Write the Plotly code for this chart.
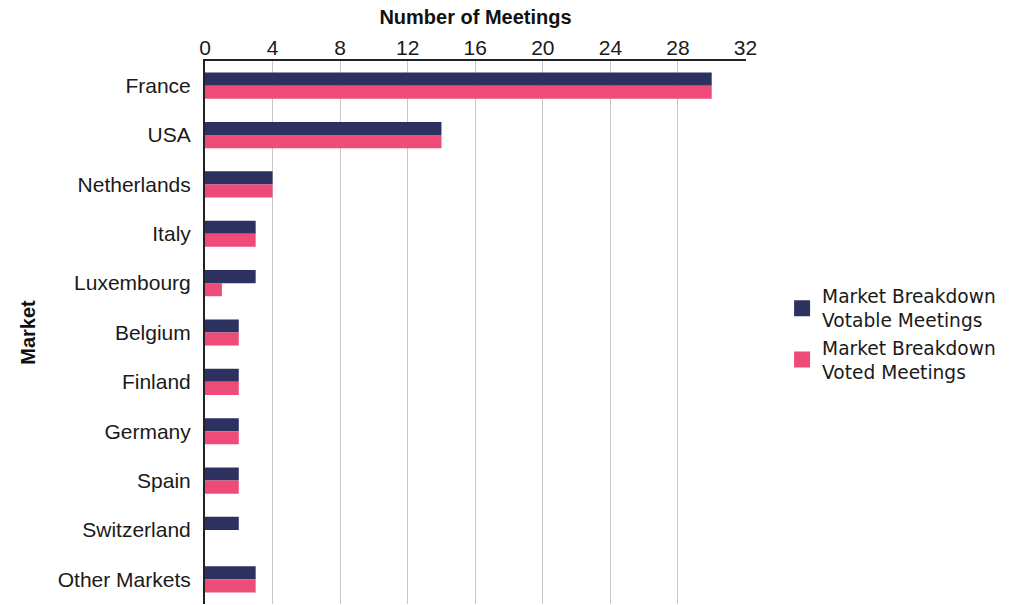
import plotly.graph_objects as go

markets = ["France", "USA", "Netherlands", "Italy", "Luxembourg", "Belgium",
           "Finland", "Germany", "Spain", "Switzerland", "Other Markets"]
votable = [30, 14, 4, 3, 3, 2, 2, 2, 2, 2, 3]
voted = [30, 14, 4, 3, 1, 2, 2, 2, 2, 0, 3]
x_ticks = [0, 4, 8, 12, 16, 20, 24, 28, 32]
series_names = ["Market Breakdown<br>Votable Meetings", "Market Breakdown<br>Voted Meetings"]
colors = ["#2d3160", "#ef4b78"]

fig = go.Figure()
for vals, name, col in zip([votable, voted], series_names, colors):
    fig.add_trace(go.Bar(y=markets, x=vals, orientation="h", name=name,
                         legendgroup=name, showlegend=False,
                         marker=dict(color=col, line=dict(width=0))))
# legend entries with larger square symbols
for name, col in zip(series_names, colors):
    fig.add_trace(go.Scatter(x=[None], y=[None], mode="markers", name=name,
                             legendgroup=name,
                             marker=dict(symbol="square", size=16, color=col,
                                         line=dict(width=0))))

fig.update_layout(
    width=1021, height=605,
    margin=dict(l=205, r=275, t=61, b=1, autoexpand=False),
    paper_bgcolor="white", plot_bgcolor="white",
    barmode="group", bargap=0.47, bargroupgap=0,
    font=dict(family="Arial", size=21, color="#1a1a1a"),
    showlegend=True,
    legend=dict(xref="container", yref="container", x=0.766, y=0.448,
                xanchor="left", yanchor="middle", itemsizing="trace",
                font=dict(family="DejaVu Sans", size=18.6, color="#1a1a1a"),
                tracegroupgap=19, traceorder="normal"),
    xaxis=dict(side="top", range=[0, 32.03], tickvals=x_ticks, automargin=False,
               showgrid=True, gridcolor="#c8c8c8", gridwidth=1,
               showline=True, linecolor="#222", linewidth=2,
               zeroline=False, ticks="", ticklabelstandoff=-4,
               title=dict(text="<b>Number of Meetings</b>", standoff=6,
                          font=dict(size=20, color="#111"))),
    yaxis=dict(autorange="reversed", categoryorder="array", categoryarray=markets,
               automargin=False,
               showline=True, linecolor="#222", linewidth=2,
               ticks="", ticklabelstandoff=8, showgrid=False,
               title=dict(text="<b>Market</b>", standoff=17,
                          font=dict(size=20, color="#111"))),
)

fig.write_html("out.html", config={"displayModeBar": False},
               post_script="document.body.style.margin='0';document.body.style.padding='0';")
